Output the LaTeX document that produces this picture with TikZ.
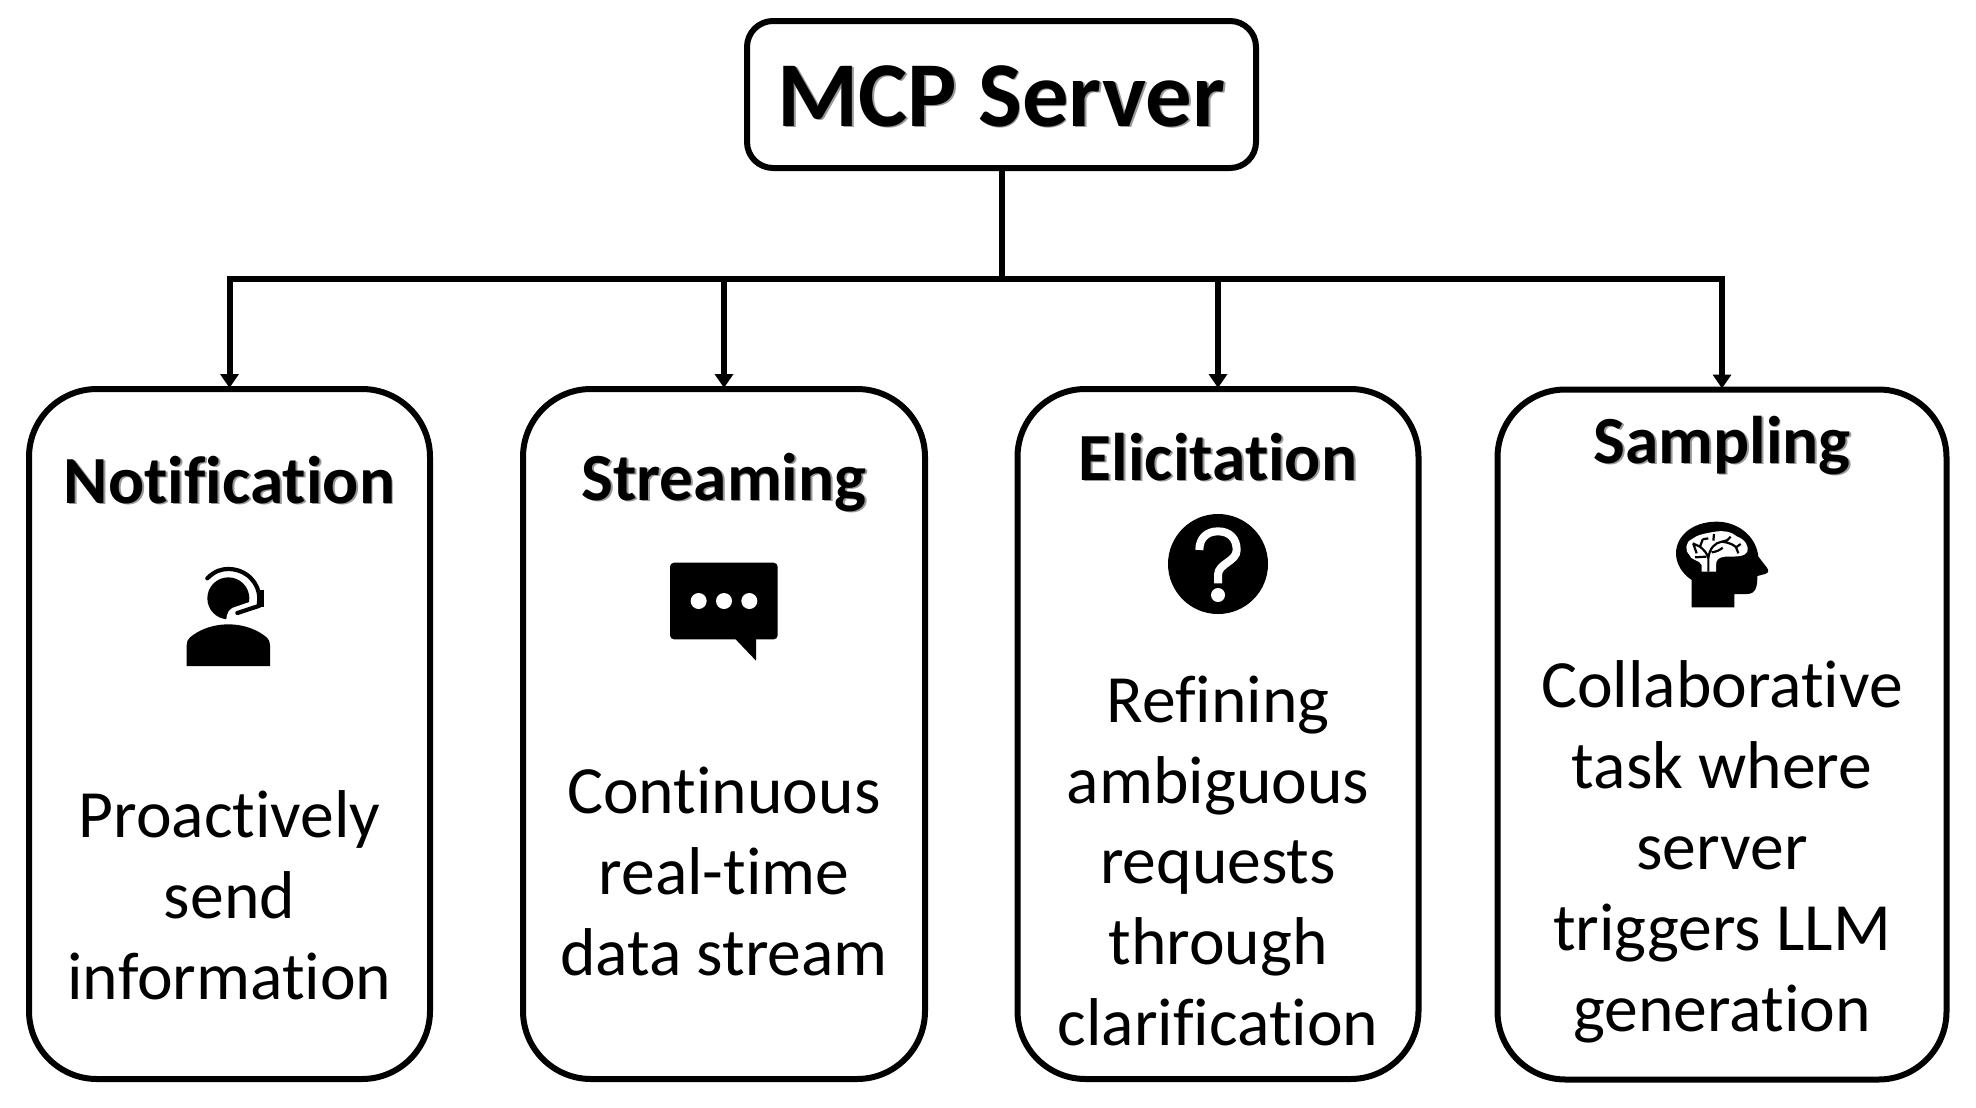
\documentclass[tikz,border=0pt]{standalone}
\usepackage{fontspec}
\setmainfont{Carlito}[RawFeature={-liga}]
\usetikzlibrary{arrows.meta}
\newcommand\shtext[1]{\rlap{\kern0.9pt\raisebox{-0.9pt}{\textcolor{black!40}{#1}}}#1}
\tikzset{
  every node/.style={inner sep=0pt},
  topbox/.style={draw=black,line width=3pt,rounded corners=13pt,fill=white,minimum width=254.5pt,minimum height=73.5pt},
  kid/.style={draw=black,line width=3pt,rounded corners=34pt,fill=white,minimum height=345pt},
  line/.style={draw=black,line width=3pt},
  feed/.style={line,shorten >=-1pt,-{Triangle[length=7pt,width=9pt]}},
  head/.style={anchor=base,font=\fontsize{33.7}{40}\selectfont\bfseries},
  title/.style={anchor=base,font=\fontsize{46.4}{50}\selectfont\bfseries},
  body/.style={anchor=base,align=center,font=\fontsize{33.8}{40.4}\selectfont},
  zoomed/.style={x=0.16667pt,y=-0.16667pt}
}
\begin{document}
\begin{tikzpicture}[x=0.5pt,y=-0.5pt]
\useasboundingbox (0,0) rectangle (1976,1108);
\node[topbox] (mcp) at (1001.5,94.5) {};
\node[kid,minimum width=200.5pt] (n1) at (229.5,734) {};
\node[kid,minimum width=201pt] (n2) at (724,734) {};
\node[kid,minimum width=200.5pt] (n3) at (1218,734) {};
\node[kid,minimum width=224.5pt] (n4) at (1722,734.5) {};
\coordinate (bus) at (1001.5,279);
\draw[line] (mcp.south) -- (bus);
\draw[feed] (bus) -| (n1.north);
\draw[feed] (bus) -| (n2.north);
\draw[feed] (bus) -| (n3.north);
\draw[feed] (bus) -| (n4.north);
\node[title] (t0) at (1001.5,126) {\shtext{MCP Server}};
\node[head] (t1) at (229.5,503) {\shtext{Notification}};
\node[head] (t2) at (724,500) {\shtext{Streaming}};
\node[head] (t3) at (1218,480) {\shtext{Elicitation}};
\node[head] (t4) at (1722,463) {\shtext{Sampling}};
\node[body] (b1) at (229.5,999) {Proactively\\send\\information};
\node[body] (b2) at (724,975) {Continuous\\real-time\\data stream};
\node[body] (b3) at (1218,1045.5) {Refining\\ambiguous\\requests\\through\\clarification};
\node[body] (b4) at (1722,1031) {Collaborative\\task where\\server\\triggers LLM\\generation};
% person icon
\begin{scope}[shift={(150,530)},zoomed]
\fill (110,408) -- (110,345) .. controls (110,325) and (125,318) .. (140,308) .. controls (170,290) and (205,283) .. (235,283) .. controls (265,283) and (300,290) .. (330,308) .. controls (345,318) and (360,325) .. (360,345) -- (360,408) -- cycle;
\fill (235,205) circle[radius=63];
\draw[white,line width=3pt] (300,225) -- (262,238) .. controls (245,242) and (238,250) .. (238,275);
\fill[white] (240,245) rectangle (300,275);
\draw[line width=2.1pt,line cap=round] (172,145) .. controls (195,122) and (215,117) .. (235,117) .. controls (290,117) and (328,160) .. (328,205) -- (326,228) -- (262,249);
\fill (322,180) rectangle (342,232);
\end{scope}
% speech bubble icon
\begin{scope}[shift={(650,540)},zoomed]
\fill[rounded corners=2pt] (60,68) rectangle (383,298);
\fill (255,296) -- (318,362) -- (318,296) -- cycle;
\fill[white] (146,183) circle[radius=24] (222,183) circle[radius=24] (298,183) circle[radius=24];
\end{scope}
% question icon
\begin{scope}[shift={(1150,500)},zoomed]
\fill (204,192) circle[radius=150];
\draw[white,line width=4pt] (148,150) .. controls (148,115) and (170,94) .. (204,94) .. controls (238,94) and (260,115) .. (260,150) .. controls (260,185) and (204,190) .. (204,225) -- (204,250);
\fill[white] (204,285) circle[radius=21];
\end{scope}
% head and brain icon
\begin{scope}[shift={(1650,500)},zoomed]
\fill (125,322) -- (253,322) -- (253,282) -- (290,282) .. controls (318,282) and (322,260) .. (322,228) -- (345,222) .. controls (358,218) and (356,210) .. (350,202) -- (325,170) .. controls (318,105) and (260,65) .. (200,65) .. controls (125,65) and (78,110) .. (78,160) .. controls (78,190) and (95,220) .. (125,240) -- cycle;
\fill[white] (155,215) -- (155,195) .. controls (150,180) and (120,180) .. (118,165) .. controls (105,155) and (105,125) .. (125,118) .. controls (140,105) and (165,100) .. (190,96) .. controls (220,90) and (245,95) .. (262,110) .. controls (285,118) and (298,140) .. (292,155) .. controls (285,170) and (260,170) .. (225,170) .. controls (205,172) and (198,180) .. (198,195) -- (198,215) -- cycle;
\draw[line width=1.1pt] (175,215) -- (175,175) .. controls (172,160) and (162,150) .. (150,140) (150,140) -- (128,130) (150,140) -- (158,118) (158,118) -- (175,115)
 (175,175) .. controls (178,145) and (195,128) .. (215,125) .. controls (230,123) and (238,118) .. (242,110) (215,125) .. controls (240,128) and (252,135) .. (258,142) -- (265,160) (258,142) -- (272,132)
 (190,122) -- (192,102) (185,157) .. controls (200,155) and (210,150) .. (218,143) (130,132) -- (140,160) (135,172) -- (168,170);
\end{scope}
\end{tikzpicture}
\end{document}
